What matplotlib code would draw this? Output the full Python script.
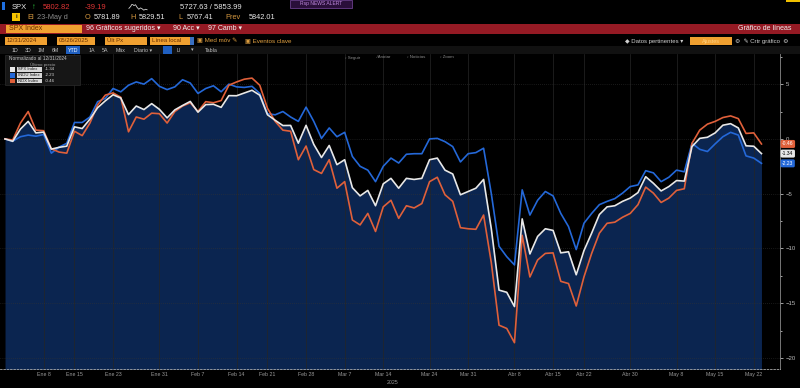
import matplotlib

matplotlib.use("Agg")
import matplotlib.pyplot as plt
import numpy as np
import pandas as pd
from matplotlib.patches import Rectangle

W, H = 800, 388
FONT = ["Liberation Sans", "DejaVu Sans"]
plt.rcParams["font.family"] = FONT

# trading days, normalised to 12/31/2024
holidays = ["2025-01-01", "2025-01-09", "2025-01-20", "2025-02-17", "2025-04-18"]
dates = pd.bdate_range("2024-12-31", "2025-05-23").drop(pd.to_datetime(holidays))

spx = [0, -0.22, 0.9, 1.6, 0.55, 0.62, -0.93, -0.77, -0.66, 1.1, 0.95, 1.8, 2.85, 3.48, 4.03, 3.73, 2.22, 3.0, 2.68, 3.22, 2.7,
       1.92, 2.65, 3.05, 3.42, 2.44, 3.13, 3.16, 2.88, 3.95, 3.94, 4.19, 4.44, 3.99, 2.21, 1.7, 1.22, 1.23, -0.39, 1.24, -0.5,
       -1.7, -0.6, -2.35, -1.9, -4.45, -5.2, -4.7, -6.1, -4.1, -3.6, -4.5, -3.6, -3.7, -3.6, -1.9, -1.75, -2.85, -3.2, -5.1, -4.8,
       -4.5, -3.7, -8.2, -13.8, -14.0, -15.3, -7.3, -10.5, -8.9, -8.2, -8.35, -10.4, -10.3, -12.4, -10.2, -8.6, -6.9, -6.2, -6.1, -5.7,
       -5.4, -4.9, -3.45, -4.05, -4.75, -4.35, -3.8, -3.85, -0.7, 0.05, 0.15, 0.55, 1.25, 1.39, 1.0, -0.63, -0.67, -1.34]
indu = [0, -0.2, 0.2, 0.35, 0.25, 0.4, -1.3, -0.75, -0.4, 1.5, 1.5, 2.0, 3.4, 3.7, 4.6, 4.3, 4.9, 5.2, 5.0, 5.5, 4.8,
        4.5, 4.75, 5.4, 5.1, 4.15, 4.6, 4.85, 4.3, 5.0, 4.75, 4.7, 4.8, 4.15, 2.3, 2.2, 2.5, 2.0, 1.6, 2.9, 1.6,
        0.05, 1.0, 0.2, 0.6, -1.6, -2.5, -2.85, -3.9, -2.5, -1.75, -2.2, -1.4, -1.35, -1.35, 0.0, 0.05, -0.25, -0.7, -2.1, -1.35,
        -1.25, -0.85, -5.0, -9.8, -10.75, -11.5, -4.65, -6.95, -5.6, -4.8, -5.2, -6.8, -8.0, -10.1, -7.7, -6.8, -6.0, -5.7, -5.45, -4.95,
        -4.35, -4.2, -2.9, -3.1, -3.9, -3.5, -2.85, -3.0, -0.4, -0.95, -1.15, -0.45, 0.2, 0.6, 0.35, -1.55, -1.75, -2.23]
ndx = [0, -0.1, 1.45, 2.5, 0.8, 0.75, -0.9, -1.2, -1.3, 0.7, 0.3, 1.45, 3.1, 4.0, 4.2, 3.8, 0.65, 2.0, 1.8, 2.35, 2.3,
       1.45, 2.5, 3.0, 3.3, 2.5, 3.4, 3.3, 3.5, 4.9, 5.2, 5.45, 5.55, 4.9, 2.8, 1.6, 0.8, 0.7, -1.9, -0.65, -2.8,
       -3.15, -1.9, -4.5, -3.9, -7.4, -7.85, -6.8, -8.45, -6.2, -5.6, -7.25, -6.1, -6.3, -5.9, -3.9, -3.5, -5.1, -5.7, -8.1, -8.2,
       -8.25, -6.95, -11.3, -17.0, -17.3, -18.6, -8.8, -12.6, -11.05, -10.45, -10.4, -13.0, -13.2, -15.25, -12.6, -10.45, -8.6, -7.7, -7.6, -7.15,
       -6.8, -6.0, -4.4, -4.95, -5.8, -5.4, -4.7, -4.55, -0.4, 0.8, 1.35, 1.6, 1.95, 2.1, 1.85, 0.5, 0.55, -0.46]

series_names = ["SPX Index", "INDU Index", "NDX Index"]
series_colors = ["#e8e8e8", "#2468d8", "#e0603a"]

tick_dates = ["2025-01-08", "2025-01-15", "2025-01-23", "2025-01-31", "2025-02-07", "2025-02-14",
              "2025-02-21", "2025-02-28", "2025-03-07", "2025-03-14", "2025-03-24", "2025-03-31",
              "2025-04-08", "2025-04-15", "2025-04-22", "2025-04-30", "2025-05-08", "2025-05-15", "2025-05-22"]
tick_labels = ["Ene 8", "Ene 15", "Ene 23", "Ene 31", "Feb 7", "Feb 14", "Feb 21", "Feb 28", "Mar 7",
               "Mar 14", "Mar 24", "Mar 31", "Abr 8", "Abr 15", "Abr 22", "Abr 30", "May 8", "May 15", "May 22"]

# intraday sparkline in the header
spark = [0.4, 0.6, 0.9, 0.7, 0.8, 0.5, 0.3, 0.45, 0.35, 0.2, 0.3, 0.25]


def fx(x):
    return x / W


def fy(y):
    return 1 - y / H


def txt(x, y, s, color="#d0d0d0", size=5.0, ha="left", **kw):
    fig.text(fx(x), fy(y), s, color=color, fontsize=size, ha=ha, va="center", **kw)


def box(x0, y0, x1, y1, fc, ec="none", lw=0.5):
    fig.add_artist(Rectangle((fx(x0), fy(y1)), (x1 - x0) / W, (y1 - y0) / H,
                             transform=fig.transFigure, fc=fc, ec=ec, lw=lw))


fig = plt.figure(figsize=(8, 3.88), dpi=100, facecolor="black")

# ---- chart ----
ax = fig.add_axes((0, fy(369), 780 / W, (369 - 54) / H))
ax.set_facecolor("black")
x = np.arange(len(dates))
ax.fill_between(x, spx, -30, color="#0b2550", lw=0, zorder=1)
ax.plot(x, indu, color=series_colors[1], lw=1.2, zorder=3)
ax.plot(x, ndx, color=series_colors[2], lw=1.2, zorder=3)
ax.plot(x, spx, color=series_colors[0], lw=1.2, zorder=4)
ax.set_xlim(-0.65, 100.4)
ax.set_ylim(-21.0, 7.75)

tick_idx = [dates.get_loc(pd.Timestamp(d)) for d in tick_dates]
ax.set_xticks(tick_idx)
ax.set_xticklabels(tick_labels)
ax.tick_params(axis="x", colors="#9a9a9a", labelsize=3.8, length=0, pad=2)
ax.yaxis.tick_right()
ax.set_yticks([5, 0, -5, -10, -15, -20])
ax.set_yticks(np.arange(-20, 7.6, 2.5), minor=True)
ax.tick_params(axis="y", which="both", colors="#bbbbbb", labelsize=4.3, length=2, width=0.6, pad=2)
ax.tick_params(axis="y", which="minor", length=1.2)
ax.grid(axis="x", color="#262626", lw=0.5, zorder=0)
ax.grid(axis="y", which="major", color="#333333", lw=0.5, ls=(0, (1, 2)), zorder=2)
for s in ("left", "top"):
    ax.spines[s].set_visible(False)
ax.spines["right"].set_color("#8a8a8a")
ax.spines["right"].set_linewidth(0.6)
ax.spines["bottom"].set_color("#aaaaaa")
ax.spines["bottom"].set_linewidth(0.6)
ax.spines["bottom"].set_linestyle((0, (2, 2)))

# last-value tags
last_vals = [spx[-1], indu[-1], ndx[-1]]
tag_text = ["#000000", "#ffffff", "#ffffff"]
for val, col, tc in zip(last_vals, series_colors, tag_text):
    ax.annotate(f"{val:.2f}", xy=(1.0, val), xycoords=("axes fraction", "data"),
                xytext=(1.5, 0), textcoords="offset points", fontsize=3.6, color=tc,
                ha="left", va="center", annotation_clip=False, zorder=10,
                bbox=dict(boxstyle="round,pad=0.3,rounding_size=0.3", fc=col, ec="none"))

txt(393, 383, "2025", color="#9a9a9a", size=3.8, ha="center")

# legend box inside chart
box(5, 55, 80, 85, fc="#161616", ec="#2c2c2c")
txt(9, 59, "Normalizado al 12/31/2024", color="#c8c8c8", size=3.4)
txt(30, 64.5, "Último precio", color="#a0a0a0", size=3.2)
for k, (name, col, val) in enumerate(zip(series_names, series_colors, last_vals)):
    yy = 69.5 + 5.8 * k
    box(10, yy - 2.2, 14.5, yy + 2.2, fc=col)
    box(17, yy - 2.3, 42, yy + 2.3, fc="#d8d8d8")
    txt(18, yy, name, color="#202020", size=3.0)
    txt(45, yy, f"{val:.2f}", color="#d8d8d8", size=3.2)

for lbl, xx in [("◦ Seguir", 345), ("⁄ Anotar", 377), ("◦ Noticias", 407), ("◦ Zoom", 440)]:
    txt(xx, 57.5, lbl, color="#8a8a8a", size=3.2)

# ---- header ----
box(2, 2, 5, 10, fc="#1e6fe0")
txt(12, 7.5, "SPX", color="#e8e8e8", size=5.5)
txt(32, 7.5, "↑", color="#2fd040", size=5.5)
txt(43, 7.5, "5802.82", color="#e03535", size=5.5)
txt(85, 7.5, "-39.19", color="#e03535", size=5.5)
sax = fig.add_axes((fx(128), fy(10.5), 20 / W, 7 / H))
sax.plot(spark, color="#d0d0d0", lw=0.6)
sax.axis("off")
txt(180, 7.5, "5727.63 / 5853.99", color="#e8e8e8", size=5.5)
box(290, 0, 352, 8, fc="#2a0f3a", ec="#7a4aa0")
txt(321, 4, "Rsp NEWS ALERT", color="#c08ae0", size=3.6, ha="center")
box(786, 0, 800, 2, fc="#f0c000")

box(12, 13, 20, 21, fc="#f5c400")
txt(16, 17, "i", color="#202020", size=4.5, ha="center", weight="bold")
txt(27, 17.5, "EI", color="#d89a40", size=5.3)
txt(37, 17.5, "23-May d", color="#8a8a8a", size=5.3)
for lbl, val, xx in [("O", "5781.89", 85), ("H", "5829.51", 130), ("L", "5767.41", 178), ("Prev", "5842.01", 225)]:
    txt(xx, 17.5, lbl, color="#d89a40", size=5.3)
    txt(xx + (24 if lbl == "Prev" else 9), 17.5, val, color="#e8e8e8", size=5.3)

box(0, 24, 800, 34, fc="#951a24")
box(6, 25, 82, 33, fc="#f0a030")
txt(9, 29, "SPX Index", color="#6a3000", size=5.0)
txt(86, 29, "96 Gráficos sugeridos ▾", color="#f0f0f0", size=5.0)
txt(173, 29, "90 Acc ▾", color="#f0f0f0", size=5.0)
txt(208, 29, "97 Camb ▾", color="#f0f0f0", size=5.0)
txt(792, 29, "Gráfico de líneas", color="#f0f0f0", size=5.0, ha="right")

for x0, x1, s in [(5, 47, "12/31/2024"), (57, 95, "05/26/2025"), (105, 147, "Últ Px"), (150, 190, "Línea local")]:
    box(x0, 37, x1, 45, fc="#f0a030")
    txt(x0 + 2, 41, s, color="#6a3000", size=4.3)
box(190, 37, 194, 45, fc="#3a6fc0")
txt(197, 41, "▣ Med móv ✎", color="#e0a040", size=4.5)
txt(245, 41, "▣ Eventos clave", color="#e0a040", size=4.5)
txt(625, 41, "◆ Datos pertinentes ▾", color="#d0d0d0", size=4.3)
box(690, 37, 732, 45, fc="#f0a030")
txt(711, 41, "Ajustes", color="#ffd080", size=4.0, ha="center")
txt(735, 41, "⚙  ✎ Crtr gráfico  ⚙", color="#d0d0d0", size=4.3)

box(0, 46, 800, 54, fc="#111111")
box(66, 46.5, 80, 53.5, fc="#1f5fc0")
for s, xx in [("1D", 12), ("3D", 25), ("1M", 38), ("6M", 52), ("YTD", 68), ("1A", 89), ("5A", 102),
              ("Máx", 116), ("Diario ▾", 134), ("LI", 177), ("▾", 191), ("Tabla", 205)]:
    txt(xx, 50, s, color="#c0c0c0" if s != "YTD" else "#ffffff", size=3.8)
box(163, 46.5, 172, 53.5, fc="#1f5fc0")

fig.savefig("out.png", dpi=100, facecolor="black")
